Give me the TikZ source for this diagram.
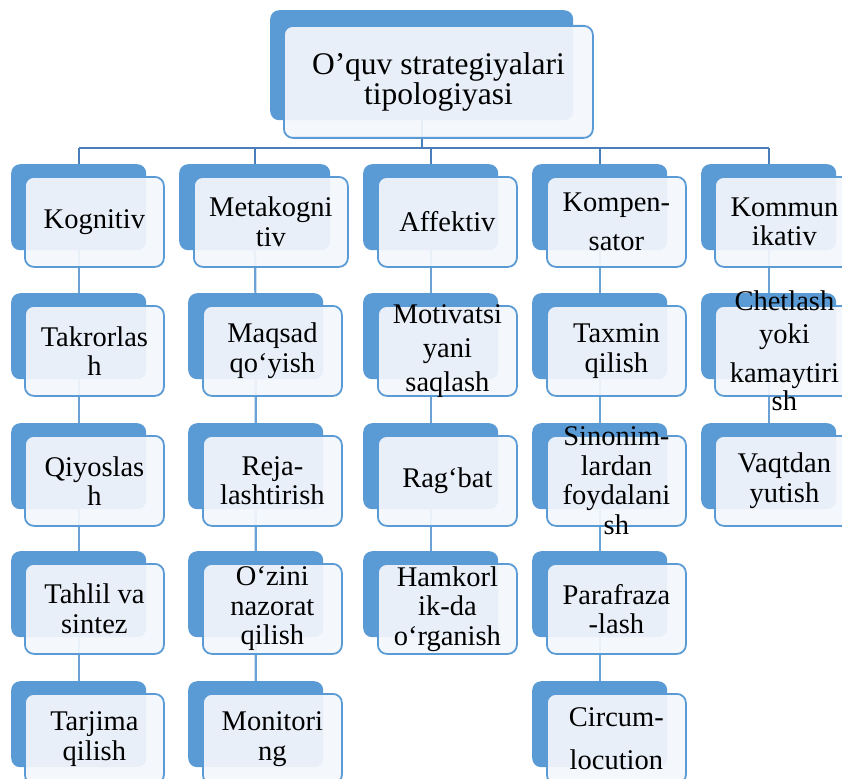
\documentclass[tikz,border=0pt]{standalone}
\usepackage{fontspec}
\setmainfont{Liberation Serif}
\definecolor{boxblue}{HTML}{5B9BD5}
\definecolor{frontfill}{HTML}{F3F6FB}
\definecolor{busblue}{HTML}{4A7EBB}
\definecolor{linkblue}{HTML}{6AA2D6}
\pgfdeclarelayer{bg}
\pgfsetlayers{bg,main}

\begin{document}
\begin{tikzpicture}[x=1pt,y=-1pt,
  back/.style={fill=boxblue,rounded corners=9pt,inner sep=0pt,anchor=north west,minimum width=135pt,minimum height=86pt},
  front/.style={draw=boxblue,line width=1.8pt,fill=frontfill,fill opacity=0.93,rounded corners=9pt,inner sep=0pt,anchor=north west,minimum width=139pt,minimum height=90pt},
  txt/.style={align=center,inner sep=0pt,font=\fontsize{28.5}{29.5}\selectfont},
  bus/.style={draw=busblue,line width=2pt},
  link/.style={draw=linkblue,line width=2.2pt}]
  \useasboundingbox (0,0) rectangle (842,778);

  \node[back,minimum width=303pt,minimum height=110pt] (top-b) at (270,10) {};\node[front,minimum width=309pt,minimum height=112pt] (top) at (283,25) {};\node[txt,font=\fontsize{31.5}{30}\selectfont] (top-t) at (top.center) {O’quv strategiyalari\\tipologiyasi};

  \node[back] (kog-b) at (11,164) {};\node[front] (kog) at (24,176) {};\node[txt] (kog-t) at (kog.center) {Kognitiv};
  \node[back] (takr-b) at (11,293) {};\node[front] (takr) at (24,305) {};\node[txt] (takr-t) at (takr.center) {Takrorlas\\h};
  \node[back] (qiyos-b) at (11,423) {};\node[front] (qiyos) at (24,435) {};\node[txt] (qiyos-t) at (qiyos.center) {Qiyoslas\\h};
  \node[back] (tahlil-b) at (11,551) {};\node[front] (tahlil) at (24,563) {};\node[txt] (tahlil-t) at (tahlil.center) {Tahlil va\\sintez};
  \node[back] (tarj-b) at (11,681) {};\node[front] (tarj) at (24,693) {};\node[txt] (tarj-t) at (tarj.center) {Tarjima\\qilish};

  \node[back,minimum width=151pt] (meta-b) at (179,164) {};\node[front,minimum width=154pt] (meta) at (193,176) {};\node[txt] (meta-t) at (meta.center) {Metakogni\\tiv};
  \node[back] (maqsad-b) at (188,293) {};\node[front] (maqsad) at (202,305) {};\node[txt] (maqsad-t) at (maqsad.center) {Maqsad\\qo‘yish};
  \node[back] (reja-b) at (188,423) {};\node[front] (reja) at (202,435) {};\node[txt] (reja-t) at (reja.center) {Reja-\\lashtirish};
  \node[back] (ozini-b) at (188,551) {};\node[front] (ozini) at (202,563) {};\node[txt] (ozini-t) at (ozini.center) {O‘zini\\nazorat\\qilish};
  \node[back] (monit-b) at (188,681) {};\node[front] (monit) at (202,693) {};\node[txt] (monit-t) at (monit.center) {Monitori\\ng};

  \node[back] (aff-b) at (363,164) {};\node[front] (aff) at (377,176) {};\node[txt] (aff-t) at (aff.center) {Affektiv};
  \node[back] (motiv-b) at (363,293) {};\node[front] (motiv) at (377,305) {};\node[txt] (motiv-t) at (motiv.center) {Motivatsi\\[4.5pt]yani\\[4.5pt]saqlash};
  \node[back] (ragbat-b) at (363,423) {};\node[front] (ragbat) at (377,435) {};\node[txt] (ragbat-t) at (ragbat.center) {Rag‘bat};
  \node[back] (hamk-b) at (363,551) {};\node[front] (hamk) at (377,563) {};\node[txt] (hamk-t) at (hamk.center) {Hamkorl\\ik-da\\o‘rganish};

  \node[back] (komp-b) at (532,164) {};\node[front] (komp) at (546,176) {};\node[txt] (komp-t) at (komp.center) {Kompen-\\[10pt]sator};
  \node[back] (taxmin-b) at (532,293) {};\node[front] (taxmin) at (546,305) {};\node[txt] (taxmin-t) at (taxmin.center) {Taxmin\\qilish};
  \node[back] (sinon-b) at (532,423) {};\node[front] (sinon) at (546,435) {};\node[txt] (sinon-t) at (sinon.center) {Sinonim-\\lardan\\foydalani\\sh};
  \node[back] (paraf-b) at (532,551) {};\node[front] (paraf) at (546,563) {};\node[txt] (paraf-t) at (paraf.center) {Parafraza\\-lash};
  \node[back] (circ-b) at (532,681) {};\node[front] (circ) at (546,693) {};\node[txt] (circ-t) at (circ.center) {Circum-\\[13pt]locution};

  \node[back] (komm-b) at (701,164) {};\node[front] (komm) at (714,176) {};\node[txt] (komm-t) at (komm.center) {Kommun\\ikativ};
  \node[back] (chet-b) at (701,293) {};\node[front] (chet) at (714,305) {};\node[txt] (chet-t) at (chet.center) {Chetlash\\[3pt]yoki\\[10pt]kamaytiri\\[-2pt]sh};
  \node[back] (vaqt-b) at (701,423) {};\node[front] (vaqt) at (714,435) {};\node[txt] (vaqt-t) at (vaqt.center) {Vaqtdan\\yutish};

  \begin{pgfonlayer}{bg}
    \coordinate (bus) at (0,148);
    \draw[bus] (top-b) -- (top-b |- bus);
    \draw[bus] (kog-b |- bus) -- (komm-b |- bus);
    \foreach \h in {kog,meta,aff,komp,komm}
      \draw[bus] (\h-b |- bus) -- (\h-b);
    \draw[link] (kog-b) -- (takr-b) -- (qiyos-b) -- (tahlil-b) -- (tarj-b);
    \draw[link] (meta-b) -- (maqsad-b) -- (reja-b) -- (ozini-b) -- (monit-b);
    \draw[link] (aff-b) -- (motiv-b) -- (ragbat-b) -- (hamk-b);
    \draw[link] (komp-b) -- (taxmin-b) -- (sinon-b) -- (paraf-b) -- (circ-b);
    \draw[link] (komm-b) -- (chet-b) -- (vaqt-b);
  \end{pgfonlayer}
\end{tikzpicture}
\end{document}
